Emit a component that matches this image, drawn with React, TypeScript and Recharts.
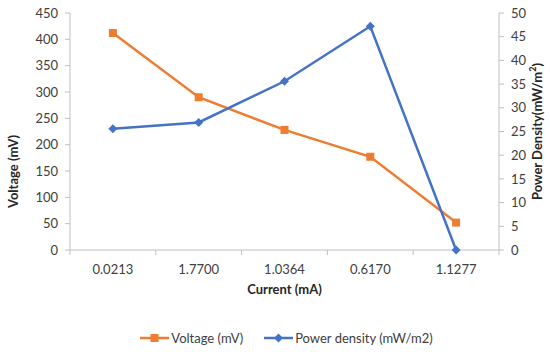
import React from 'react';
import { LineChart, Line, XAxis, YAxis, Legend } from 'recharts';

// Values
const currents = ['0.0213', '1.7700', '1.0364', '0.6170', '1.1277'];
const voltage = [412, 290, 228, 177, 52];
const powerDensity = [25.6, 26.9, 35.6, 47.2, 0];
const voltageTicks = [0, 50, 100, 150, 200, 250, 300, 350, 400, 450];
const powerTicks = [0, 5, 10, 15, 20, 25, 30, 35, 40, 45, 50];

const data = currents.map((c, i) => ({
  current: c,
  voltage: voltage[i],
  power: powerDensity[i]
}));

const ORANGE = '#ED7D31';
const BLUE = '#4472C4';
const AXIS = '#BFBFBF';
const TEXT = '#404040';
const FONT = 'Lato, "Open Sans", sans-serif';

const WIDTH = 550;
const HEIGHT = 352;
const LEFT_W = 70;
const RIGHT_W = 51;
const BAND = (WIDTH - LEFT_W - RIGHT_W) / currents.length;

// category ticks sit between the bands, like Excel does
const CurrentTick = (props: any) => {
  const { x, y, payload, index } = props;
  return (
    <g>
      <line x1={x - BAND / 2} x2={x - BAND / 2} y1={y} y2={y + 5} stroke={AXIS} />
      {index === currents.length - 1 && (
        <line x1={x + BAND / 2} x2={x + BAND / 2} y1={y} y2={y + 5} stroke={AXIS} />
      )}
      <text x={x} y={y + 24} textAnchor="middle" fill={TEXT} fontSize={13} fontFamily={FONT}>
        {payload.value}
      </text>
    </g>
  );
};

const SquareDot = (props: any) => {
  const { cx, cy, index } = props;
  return <rect key={`sq-${index}`} x={cx - 4} y={cy - 4} width={8} height={8} fill={ORANGE} />;
};

const DiamondDot = (props: any) => {
  const { cx, cy, index } = props;
  const r = 4.5;
  return (
    <path
      key={`dm-${index}`}
      d={`M${cx},${cy - r}L${cx + r},${cy}L${cx},${cy + r}L${cx - r},${cy}Z`}
      fill={BLUE}
    />
  );
};

const LegendContent = () => (
  <div style={{
    height: 28,
    display: 'flex',
    justifyContent: 'center',
    alignItems: 'center',
    paddingLeft: 23,
    fontFamily: FONT,
    fontSize: 13,
    color: TEXT
  }}>
    <svg width={29} height={12}>
      <line x1={0} x2={29} y1={6} y2={6} stroke={ORANGE} strokeWidth={2.5} />
      <rect x={10.5} y={2} width={8} height={8} fill={ORANGE} />
    </svg>
    <span style={{ marginLeft: 2, marginRight: 21 }}>Voltage (mV)</span>
    <svg width={29} height={12}>
      <line x1={0} x2={29} y1={6} y2={6} stroke={BLUE} strokeWidth={2.5} />
      <path d="M14.5,1.5L19,6L14.5,10.5L10,6Z" fill={BLUE} />
    </svg>
    <span style={{ marginLeft: 2 }}>Power density (mW/m2)</span>
  </div>
);

const LeftLabel = (props: any) => {
  const { viewBox } = props;
  const x = viewBox.x + 13;
  const y = viewBox.y + viewBox.height / 2 + 40;
  return (
    <text x={x} y={y} transform={`rotate(-90 ${x} ${y})`} textAnchor="middle" dominantBaseline="central"
      fontFamily={FONT} fontSize={13} fontWeight="bold" fill="#262626">
      Voltage (mV)
    </text>
  );
};

const RightLabel = (props: any) => {
  const { viewBox } = props;
  const x = viewBox.x + 38;
  const y = viewBox.y + viewBox.height / 2;
  return (
    <text x={x} y={y} transform={`rotate(-90 ${x} ${y})`} textAnchor="middle" dominantBaseline="central"
      fontFamily={FONT} fontSize={13} fontWeight="bold" fill="#262626">
      Power Density(mW/m<tspan dy={-5} fontSize={9}>2</tspan><tspan dy={5}>)</tspan>
    </text>
  );
};

const BottomLabel = (props: any) => {
  const { viewBox } = props;
  return (
    <text x={viewBox.x + viewBox.width / 2} y={viewBox.y + 44} textAnchor="middle"
      fontFamily={FONT} fontSize={13} fontWeight="bold" fill="#262626">
      Current (mA)
    </text>
  );
};

export default function App() {
  return (
    <div style={{ position: 'absolute', left: 0, top: 0, background: '#fff' }}>
      <LineChart width={WIDTH} height={HEIGHT} data={data} margin={{ top: 13, right: 0, bottom: 0, left: 0 }}>
        <XAxis
          dataKey="current"
          height={74}
          padding={{ left: BAND / 2, right: BAND / 2 }}
          stroke={AXIS}
          tickLine={false}
          tickSize={0}
          tickMargin={0}
          tick={<CurrentTick />}
          interval={0}
          label={<BottomLabel />}
        />
        <YAxis
          yAxisId="left"
          width={LEFT_W}
          domain={[0, 450]}
          ticks={voltageTicks}
          interval={0}
          stroke={AXIS}
          tickSize={5}
          tickMargin={7}
          tick={{ fill: TEXT, fontSize: 13, fontFamily: FONT }}
          label={<LeftLabel />}
        />
        <YAxis
          yAxisId="right"
          orientation="right"
          width={RIGHT_W}
          domain={[0, 50]}
          ticks={powerTicks}
          interval={0}
          stroke={AXIS}
          tickSize={5}
          tickMargin={7}
          tick={{ fill: TEXT, fontSize: 13, fontFamily: FONT }}
          label={<RightLabel />}
        />
        <Legend verticalAlign="bottom" content={<LegendContent />} />
        <Line
          yAxisId="left"
          dataKey="voltage"
          name="Voltage (mV)"
          stroke={ORANGE}
          strokeWidth={2.5}
          dot={<SquareDot />}
          activeDot={false}
          isAnimationActive={false}
        />
        <Line
          yAxisId="right"
          dataKey="power"
          name="Power density (mW/m2)"
          stroke={BLUE}
          strokeWidth={2.5}
          dot={<DiamondDot />}
          activeDot={false}
          isAnimationActive={false}
        />
      </LineChart>
    </div>
  );
}
